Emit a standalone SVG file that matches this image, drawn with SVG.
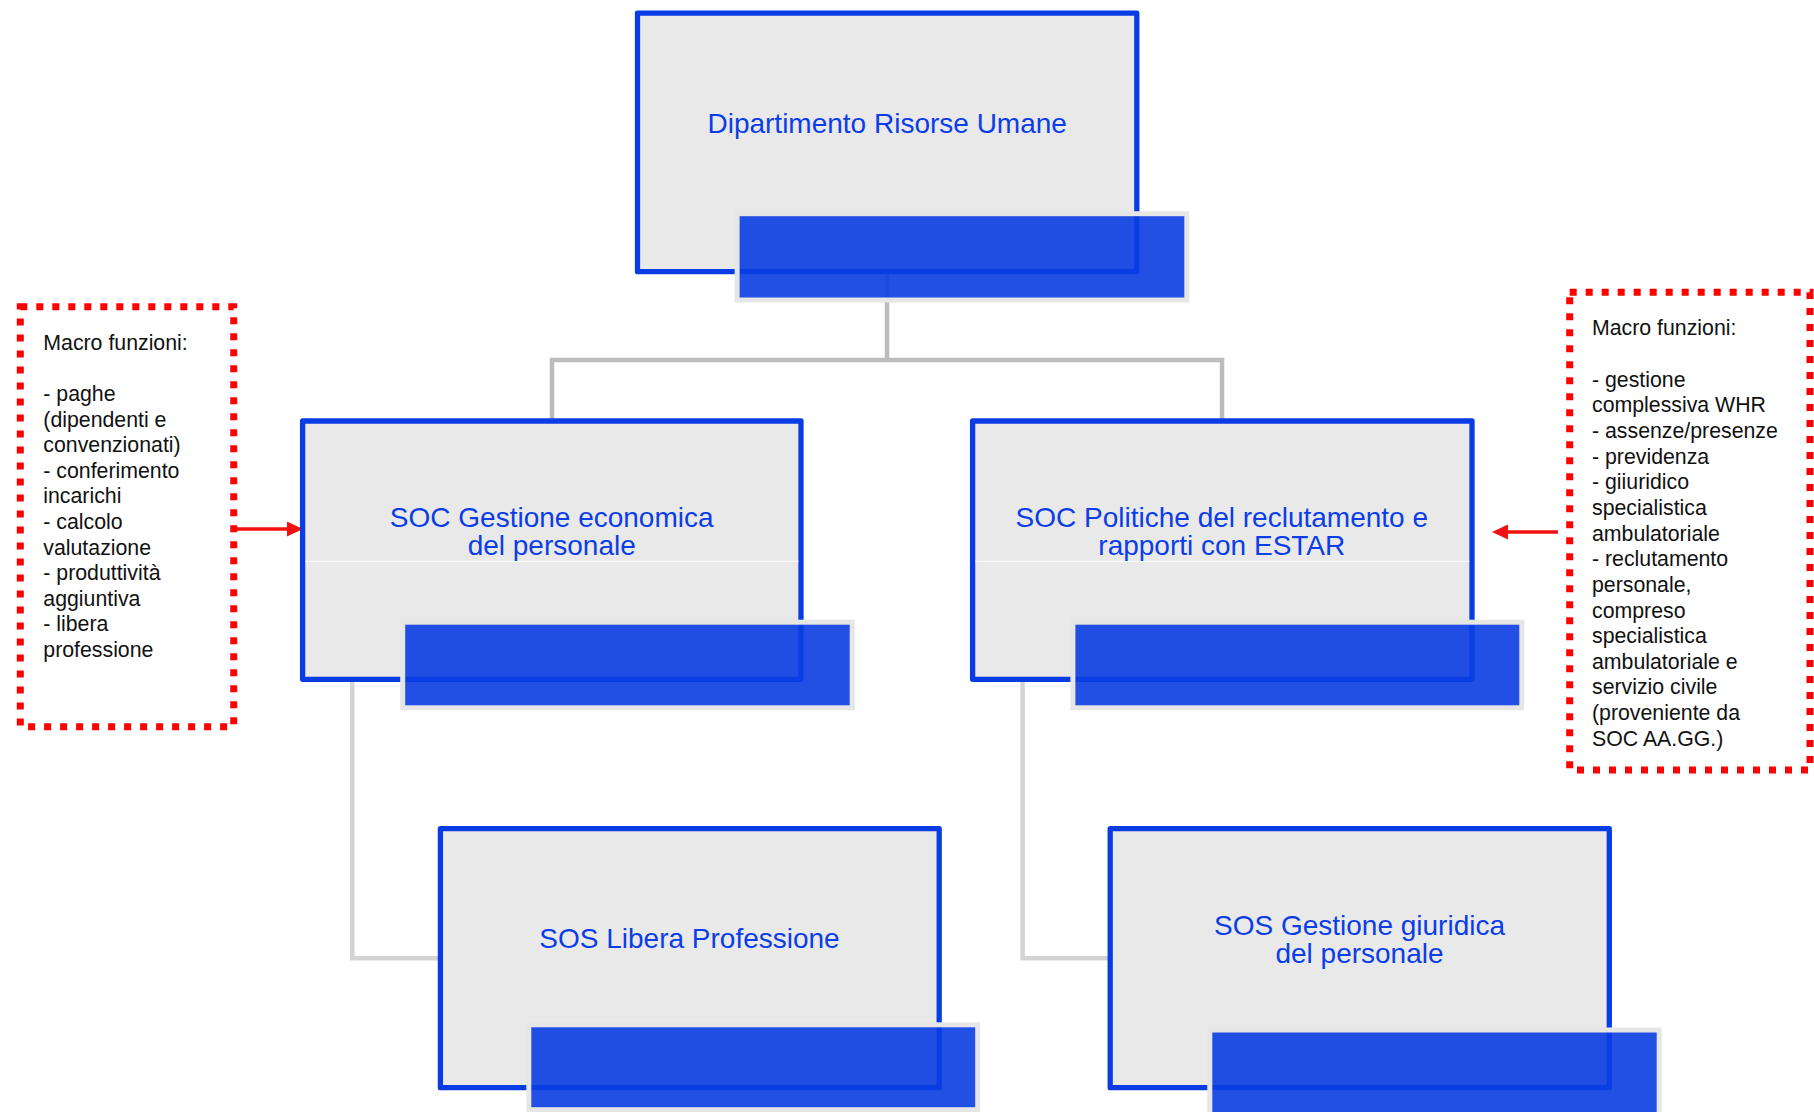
<svg xmlns="http://www.w3.org/2000/svg" width="1814" height="1112" viewBox="0 0 1814 1112">
<defs>
<style>
.box{fill:#e9e9e9;stroke:#0a3ce6;stroke-width:5.3;stroke-linejoin:round}
.bar{fill:#0a3de2;fill-opacity:0.9;stroke:#e6e6e6;stroke-width:5}
.lbl{font-family:"Liberation Sans",Arial,sans-serif;font-size:28px;fill:#0b3de8;text-anchor:middle}
.sep{stroke:#ffffff;stroke-width:1}
.c1{fill:none;stroke:#bcbcbc;stroke-width:4.5}
.c2{fill:none;stroke:#d3d3d3;stroke-width:4.5}
.note{fill:none;stroke:#ff0000;stroke-width:7;stroke-dasharray:7 9}
.nt{font-family:"Liberation Sans",Arial,sans-serif;font-size:21.3px;fill:#111111}
.arr{fill:none;stroke:#f21010;stroke-width:3.6}
</style>
<marker id="ah" viewBox="0 0 16 15" markerWidth="16" markerHeight="15" refX="6" refY="7.5" orient="auto" markerUnits="userSpaceOnUse">
<path d="M0,0 L16,7.5 L0,15 z" fill="#f21010"/>
</marker>
</defs>
<rect width="1814" height="1112" fill="#ffffff"/>

<g id="connectors">
<path class="c1" d="M887 272 V360 M552 421 V360 H1222 V421"/>
<path class="c2" d="M352.3 679 V958.2 H440"/>
<path class="c2" d="M1022.6 679 V958.2 H1110"/>
<path class="arr" d="M234 529 H293" marker-end="url(#ah)"/>
<path class="arr" d="M1558 532 H1502" marker-end="url(#ah)"/>
</g>

<g id="node-dipartimento">
<rect class="box" x="637.5" y="13.2" width="499.3" height="258.5"/>
<text class="lbl" x="887.2" y="132.7">Dipartimento Risorse Umane</text>
<rect class="bar" x="737.1" y="213.7" width="449.7" height="86.3"/>
</g>

<g id="node-soc-economica">
<rect class="box" x="302.6" y="421" width="498.4" height="258.3"/>
<line class="sep" x1="305.3" y1="561.3" x2="798.6" y2="561.3"/>
<text class="lbl" x="551.7" y="526.7">SOC Gestione economica</text>
<text class="lbl" x="551.7" y="555">del personale</text>
<rect class="bar" x="402.7" y="622.2" width="449.5" height="85.6"/>
</g>

<g id="node-soc-politiche">
<rect class="box" x="972.6" y="421" width="499.4" height="258.3"/>
<line class="sep" x1="975.3" y1="561.3" x2="1469.4" y2="561.3"/>
<text class="lbl" x="1221.8" y="526.7">SOC Politiche del reclutamento e</text>
<text class="lbl" x="1221.8" y="555">rapporti con ESTAR</text>
<rect class="bar" x="1072.9" y="622.2" width="448.9" height="85.6"/>
</g>

<g id="node-sos-libera">
<rect class="box" x="440.4" y="828.7" width="498.8" height="259"/>
<text class="lbl" x="689.5" y="948.3">SOS Libera Professione</text>
<rect class="bar" x="528.8" y="1024.8" width="448.9" height="84.9"/>
</g>

<g id="node-sos-giuridica">
<rect class="box" x="1110.2" y="828.7" width="499.1" height="259"/>
<text class="lbl" x="1359.5" y="935">SOS Gestione giuridica</text>
<text class="lbl" x="1359.5" y="963.3">del personale</text>
<rect class="bar" x="1209.8" y="1030" width="449.4" height="86"/>
</g>

<g id="note-left">
<rect class="note" x="20.3" y="306.7" width="213.4" height="420"/>
<text class="nt" x="43.3" y="350">Macro funzioni:</text>
<text class="nt" x="43.3" y="401">- paghe</text>
<text class="nt" x="43.3" y="426.6">(dipendenti e</text>
<text class="nt" x="43.3" y="452.2">convenzionati)</text>
<text class="nt" x="43.3" y="477.8">- conferimento</text>
<text class="nt" x="43.3" y="503.4">incarichi</text>
<text class="nt" x="43.3" y="529">- calcolo</text>
<text class="nt" x="43.3" y="554.6">valutazione</text>
<text class="nt" x="43.3" y="580.2">- produttività</text>
<text class="nt" x="43.3" y="605.8">aggiuntiva</text>
<text class="nt" x="43.3" y="631.4">- libera</text>
<text class="nt" x="43.3" y="657">professione</text>
</g>

<g id="note-right">
<rect class="note" x="1569.7" y="292.3" width="240.3" height="477.7"/>
<text class="nt" x="1592" y="335">Macro funzioni:</text>
<text class="nt" x="1592" y="386.7">- gestione</text>
<text class="nt" x="1592" y="412.3">complessiva WHR</text>
<text class="nt" x="1592" y="438">- assenze/presenze</text>
<text class="nt" x="1592" y="463.6">- previdenza</text>
<text class="nt" x="1592" y="489.3">- giiuridico</text>
<text class="nt" x="1592" y="514.9">specialistica</text>
<text class="nt" x="1592" y="540.5">ambulatoriale</text>
<text class="nt" x="1592" y="566.2">- reclutamento</text>
<text class="nt" x="1592" y="591.8">personale,</text>
<text class="nt" x="1592" y="617.5">compreso</text>
<text class="nt" x="1592" y="643.1">specialistica</text>
<text class="nt" x="1592" y="668.8">ambulatoriale e</text>
<text class="nt" x="1592" y="694.4">servizio civile</text>
<text class="nt" x="1592" y="720">(proveniente da</text>
<text class="nt" x="1592" y="745.7">SOC AA.GG.)</text>
</g>
</svg>
